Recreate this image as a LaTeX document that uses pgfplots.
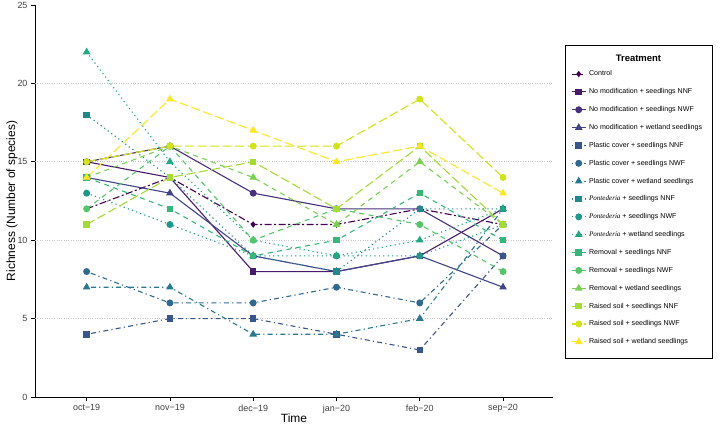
\documentclass[border=0pt]{standalone}
\usepackage{fontspec}
\setmainfont{Liberation Sans}
\newfontfamily\pontfont{Liberation Serif}
\usepackage{pgfplots}
\pgfplotsset{compat=1.18}

% viridis, 16 levels
\definecolor{c1}{HTML}{440154}
\definecolor{c2}{HTML}{481A6C}
\definecolor{c3}{HTML}{472F7D}
\definecolor{c4}{HTML}{414487}
\definecolor{c5}{HTML}{39568C}
\definecolor{c6}{HTML}{31688E}
\definecolor{c7}{HTML}{2A788E}
\definecolor{c8}{HTML}{23888E}
\definecolor{c9}{HTML}{1F988B}
\definecolor{c10}{HTML}{22A884}
\definecolor{c11}{HTML}{35B779}
\definecolor{c12}{HTML}{54C568}
\definecolor{c13}{HTML}{7AD151}
\definecolor{c14}{HTML}{A5DB36}
\definecolor{c15}{HTML}{D2E21B}
\definecolor{c16}{HTML}{FDE725}

\tikzset{
  lt twodash/.style={dash pattern=on 7bp off 2.5bp on 2bp off 2.5bp},
  lt dotdash/.style={dash pattern=on 1.2bp off 3.2bp on 5bp off 3.2bp},
  lt dotted/.style={dash pattern=on 1.2bp off 3.2bp},
  lt dashed/.style={dash pattern=on 5bp off 4.5bp},
  lt longdash/.style={dash pattern=on 9bp off 3.5bp},
  m sq/.style={mark=square*, mark size=2.7bp, mark options={solid}},
  m ci/.style={mark=*, mark size=2.9bp, mark options={solid}},
  m tr/.style={mark=triangle*, mark size=3.4bp, mark options={solid}},
  m di/.style={mark=diamond*, mark size=2.4bp, mark options={solid}},
}

\begin{document}
\begin{tikzpicture}
\begin{axis}[
  scale only axis, width=518bp, height=392bp,
  xmin=-0.62, xmax=5.6, ymin=0, ymax=25,
  clip=false,
  axis x line*=bottom, axis y line*=left,
  axis line style={-, line width=0.9bp, black},
  xtick={0,1,2,3,4,5},
  xticklabels={oct−19, nov−19, dec−19, jan−20, feb−20, sep−20},
  ytick={0,5,10,15,20,25},
  extra y ticks={5,10,15,20}, extra y tick labels={},
  extra y tick style={grid=major, major tick length=0pt},
  grid style={dotted, gray!45, line width=0.6bp},
  tick align=outside, major tick length=4bp,
  tick style={line width=0.8bp, black},
  /pgf/number format/assume math mode=true,
  tick label style={font=\fontsize{9}{10}\selectfont, text=black!75},
  xlabel={Time}, ylabel={Richness (Number of species)},
  label style={font=\fontsize{12}{14}\selectfont},
  xlabel style={at={(axis description cs:0.5,-0.0548)}, anchor=center},
  ylabel style={at={(axis description cs:-0.0444,0.5)}, anchor=center},
  every axis plot/.append style={line width=1.1bp},
  legend image code/.code={\draw[mark repeat=2,mark phase=2] plot coordinates {(0bp,0bp) (7bp,0bp) (14bp,0bp)};},
  legend cell align=left,
  legend style={at={(1.0347,0.833)}, anchor=north west, draw=none, fill=none,
    inner sep=0pt, row sep=11.05bp, font=\fontsize{7.1}{8}\selectfont,
    nodes={inner ysep=0pt, inner xsep=2.8bp, text height=5.3bp, text depth=1.5bp}},
]
\addplot[c1, lt twodash, m di] coordinates {(0,12) (1,14) (2,11) (3,11) (4,12) (5,11)};
\addlegendentry{Control}
\addplot[c2, solid, m sq] coordinates {(0,15) (1,14) (2,8) (3,8) (4,9) (5,12)};
\addlegendentry{No modification + seedlings NNF}
\addplot[c3, solid, m ci] coordinates {(0,15) (1,16) (2,13) (3,12) (4,12) (5,9)};
\addlegendentry{No modification + seedlings NWF}
\addplot[c4, solid, m tr] coordinates {(0,14) (1,13) (2,9) (3,8) (4,9) (5,7)};
\addlegendentry{No modification + wetland seedlings}
\addplot[c5, lt dotdash, m sq] coordinates {(0,4) (1,5) (2,5) (3,4) (4,3) (5,9)};
\addlegendentry{Plastic cover + seedlings NNF}
\addplot[c6, lt dotdash, m ci] coordinates {(0,8) (1,6) (2,6) (3,7) (4,6) (5,11)};
\addlegendentry{Plastic cover + seedlings NWF}
\addplot[c7, lt dotdash, m tr] coordinates {(0,7) (1,7) (2,4) (3,4) (4,5) (5,12)};
\addlegendentry{Plastic cover + wetland seedlings}
\addplot[c8, lt dotted, m sq] coordinates {(0,18) (1,14) (2,9) (3,8) (4,12) (5,12)};
\addlegendentry{{\pontfont\itshape Pontederia} + seedlings NNF}
\addplot[c9, lt dotted, m ci] coordinates {(0,13) (1,11) (2,9) (3,9) (4,9) (5,11)};
\addlegendentry{{\pontfont\itshape Pontederia} + seedlings NWF}
\addplot[c10, lt dotted, m tr] coordinates {(0,22) (1,15) (2,10) (3,9) (4,10) (5,12)};
\addlegendentry{{\pontfont\itshape Pontederia} + wetland seedlings}
\addplot[c11, lt dashed, m sq] coordinates {(0,14) (1,12) (2,9) (3,10) (4,13) (5,10)};
\addlegendentry{Removal + seedlings NNF}
\addplot[c12, lt dashed, m ci] coordinates {(0,12) (1,16) (2,10) (3,12) (4,11) (5,8)};
\addlegendentry{Removal + seedlings NWF}
\addplot[c13, lt dashed, m tr] coordinates {(0,14) (1,16) (2,14) (3,11) (4,15) (5,11)};
\addlegendentry{Removal + wetland seedlings}
\addplot[c14, lt longdash, m sq] coordinates {(0,11) (1,14) (2,15) (3,12) (4,16) (5,11)};
\addlegendentry{Raised soil + seedlings NNF}
\addplot[c15, lt longdash, m ci] coordinates {(0,15) (1,16) (2,16) (3,16) (4,19) (5,14)};
\addlegendentry{Raised soil + seedlings NWF}
\addplot[c16, lt longdash, m tr] coordinates {(0,14) (1,19) (2,17) (3,15) (4,16) (5,13)};
\addlegendentry{Raised soil + wetland seedlings}

\draw[line width=0.9bp, black] (rel axis cs:1.0232,0.898) rectangle (rel axis cs:1.3069,0.0995);
\node[font=\bfseries\fontsize{9.5}{11}\selectfont] at (rel axis cs:1.165,0.865) {Treatment};
\end{axis}
\pgfresetboundingbox
\path[use as bounding box] (-35bp,-35bp) rectangle (685bp,397bp);
\end{tikzpicture}
\end{document}
